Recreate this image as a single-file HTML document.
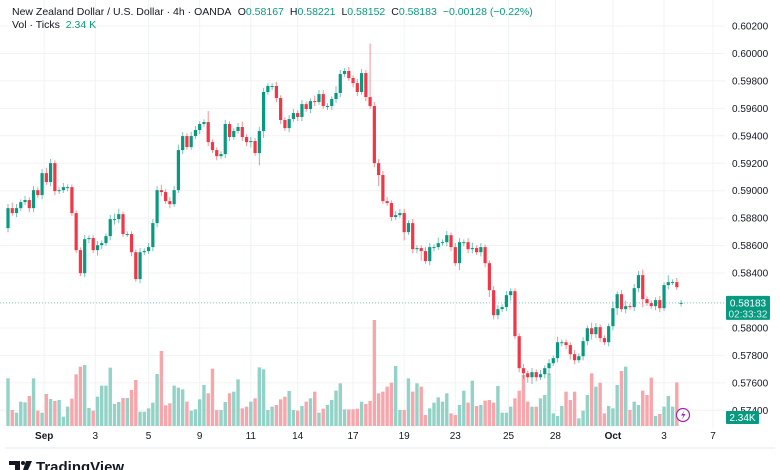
<!DOCTYPE html>
<html><head><meta charset="utf-8">
<style>
body{margin:0;background:#fff;font-family:"Liberation Sans",sans-serif;}
#wrap{position:relative;width:780px;height:470px;overflow:hidden;}
svg text{font-family:"Liberation Sans",sans-serif;}
</style></head><body>
<div id="wrap">
<svg id="chart" width="780" height="470"></svg>
</div>
<script>
const firstOpen = 0.58727;
const lastOpen = 0.58176;
const closes = [0.58873,0.58837,0.58873,0.58917,0.58932,0.58873,0.59004,0.58968,0.59128,0.59063,0.59201,0.58997,0.59004,0.59026,0.59026,0.58837,0.58567,0.58399,0.58647,0.58655,0.58567,0.58603,0.58618,0.58669,0.58793,0.58793,0.58829,0.58684,0.58684,0.58552,0.58356,0.58552,0.58560,0.58589,0.58764,0.59004,0.58990,0.58924,0.58902,0.59004,0.59296,0.59398,0.59318,0.59398,0.59442,0.59486,0.59500,0.59354,0.59296,0.59252,0.59267,0.59486,0.59391,0.59435,0.59464,0.59391,0.59354,0.59362,0.59274,0.59435,0.59719,0.59763,0.59763,0.59675,0.59515,0.59456,0.59522,0.59566,0.59537,0.59631,0.59595,0.59653,0.59646,0.59704,0.59617,0.59617,0.59668,0.59712,0.59850,0.59872,0.59821,0.59784,0.59719,0.59857,0.59682,0.59617,0.59201,0.59114,0.58924,0.58910,0.58808,0.58822,0.58837,0.58698,0.58764,0.58574,0.58582,0.58560,0.58487,0.58589,0.58589,0.58618,0.58625,0.58676,0.58589,0.58472,0.58625,0.58625,0.58574,0.58582,0.58552,0.58589,0.58472,0.58275,0.58093,0.58137,0.58152,0.58239,0.58268,0.57940,0.57707,0.57670,0.57641,0.57678,0.57641,0.57663,0.57707,0.57743,0.57780,0.57896,0.57896,0.57875,0.57809,0.57765,0.57794,0.57904,0.57998,0.57955,0.58006,0.57926,0.57896,0.58013,0.58144,0.58246,0.58137,0.58159,0.58152,0.58290,0.58385,0.58210,0.58181,0.58159,0.58203,0.58144,0.58312,0.58334,0.58334,0.58297,0.58183];
const wickUp = [3,4,3,2,3,2,3,2,3,4,3,2,2,3,2,2,2,2,3,2,2,3,2,2,3,4,4,2,2,2,2,3,2,3,3,3,4,2,3,3,4,3,2,3,3,2,2,8,2,2,2,3,2,2,3,4,2,3,2,3,3,2,2,3,2,2,3,3,2,3,2,2,4,3,3,2,2,5,3,2,3,2,3,3,2,39,3,3,3,3,2,3,3,3,2,3,2,2,3,3,2,4,2,3,2,3,3,2,3,4,2,3,2,2,3,3,2,3,2,2,2,3,2,3,2,3,2,3,2,4,2,2,2,3,2,3,2,4,3,2,2,2,5,2,3,4,2,3,3,4,2,2,2,3,2,5,2,3,2];
const wickDn = [3,2,3,2,2,3,3,2,3,2,3,3,2,2,3,2,2,2,3,3,2,4,3,2,3,4,3,2,2,3,2,3,2,2,3,3,3,2,3,2,2,3,2,2,2,3,2,3,2,3,2,3,3,2,2,3,3,4,2,9,5,2,3,3,3,2,3,2,3,3,2,3,3,2,2,3,3,3,3,2,2,3,3,2,3,2,3,8,2,2,3,2,2,6,2,3,3,7,2,3,3,2,2,3,3,2,5,3,3,3,2,3,3,5,3,3,2,3,4,2,3,4,4,5,3,2,3,5,2,3,3,3,4,3,2,3,3,4,3,3,2,3,3,5,2,3,2,3,3,6,2,2,3,3,2,3,2];
const volumes = [143,48,40,73,71,90,143,46,40,96,81,75,78,28,58,82,155,178,183,54,46,88,121,121,175,66,72,84,84,108,138,43,43,53,70,156,225,62,68,121,115,110,73,46,50,80,123,98,172,48,48,72,98,103,140,53,58,73,83,176,170,48,58,63,80,88,105,48,46,60,73,83,103,40,52,63,78,106,128,50,50,50,52,73,66,75,318,98,103,118,130,180,48,48,143,103,128,118,33,53,70,86,73,98,38,33,63,106,70,136,60,63,76,78,70,120,40,40,58,83,106,153,73,58,58,83,93,158,38,30,60,103,78,103,23,46,93,158,118,130,38,60,53,123,165,178,48,73,63,106,93,145,30,36,58,90,58,131];
const priceTicks = [0.602,0.600,0.598,0.596,0.594,0.592,0.590,0.588,0.586,0.584,0.580,0.578,0.576,0.574];
const dateLabels = ["Sep","3","5","9","11","14","17","19","23","25","28","Oct","3","7"];
const dateIdx = [8.5,20.5,33,45,57,68,81,93,105,117.5,128.5,142,154,165.5];
const lastPrice = 0.58183;

const NS="http://www.w3.org/2000/svg";
const svg=document.getElementById('chart');
const GREEN="#089981",RED="#f23645";
const yP=p=>26+(0.602-p)/0.002*27.45;
const xI=i=>8+i*4.26;
const volBase=426, vScale=106/318;
function mk(tag,attrs,parent){const e=document.createElementNS(NS,tag);for(const k in attrs)e.setAttribute(k,attrs[k]);(parent||svg).appendChild(e);return e;}
function openOf(i){if(i===0)return firstOpen;if(i===closes.length-1)return lastOpen;return closes[i-1];}

const grid=mk('g',{});


priceTicks.forEach(p=>{mk('line',{x1:0,x2:725,y1:yP(p),y2:yP(p),stroke:'#f6f1f3','stroke-width':1},grid);});
dateIdx.forEach(i=>{mk('line',{x1:xI(i),x2:xI(i),y1:0,y2:428,stroke:'#eef4f3','stroke-width':1},grid);});

const vg=mk('g',{});


volumes.forEach((v,i)=>{
  const k=Math.min(i,closes.length-1);
  const up=closes[k]>=openOf(k);
  const r=mk('rect',{x:xI(i)-1.7,y:volBase-v*vScale,width:3.4,height:v*vScale,fill:up?'#93d2c7':'#f7a6ac'},vg);
  
  
});

const lp=mk('line',{x1:0,x2:725,y1:yP(lastPrice),y2:yP(lastPrice),stroke:'#7cc9bd','stroke-width':1,'stroke-dasharray':'1 2'});



const cg=mk('g',{});


closes.forEach((c,i)=>{
  const o=openOf(i);
  const up=c>=o, col=up?GREEN:RED;
  const wu=wickUp[i]!==undefined?wickUp[i]:2, wd=wickDn[i]!==undefined?wickDn[i]:2;
  const hi=Math.max(o,c)+wu*0.0001, lo=Math.min(o,c)-wd*0.0001;
  const x=xI(i);
  const w=mk('line',{x1:x,x2:x,y1:yP(hi),y2:yP(lo),stroke:col,'stroke-width':1,'stroke-opacity':0.55},cg);
  
  
  const top=yP(Math.max(o,c)), h=Math.max(1,yP(Math.min(o,c))-top);
  const b=mk('rect',{x:x-1.6,y:top,width:3.2,height:h,fill:col},cg);
  
  
});

const ag=mk('g',{});


priceTicks.forEach(p=>{const t=mk('text',{x:732,y:yP(p)+3.5,'font-size':10,fill:'#131722'},ag);t.textContent=p.toFixed(5);
  
  });

const dg=mk('g',{});


dateLabels.forEach((s,k)=>{const t=mk('text',{x:xI(dateIdx[k]),y:439,'font-size':10,fill:'#131722','text-anchor':'middle','font-weight':(s==='Sep'||s==='Oct')?'bold':'normal'},dg);t.textContent=s;
  
  });

const pb=mk('g',{});


mk('rect',{x:726,y:yP(lastPrice)-7,width:44,height:24,fill:GREEN,rx:1},pb);
const t1=mk('text',{x:748,y:yP(lastPrice)+3.5,'font-size':10,fill:'#fff','text-anchor':'middle'},pb);t1.textContent=lastPrice.toFixed(5);
const t2=mk('text',{x:748,y:yP(lastPrice)+14.5,'font-size':10,fill:'#d6f0eb','text-anchor':'middle'},pb);t2.textContent="02:33:32";
const vb=mk('g',{});


mk('rect',{x:726,y:411,width:33,height:13,fill:GREEN,rx:1},vb);
const t3=mk('text',{x:742.5,y:421,'font-size':10,fill:'#fff','text-anchor':'middle'},vb);t3.textContent="2.34K";

mk('line',{x1:5,x2:775,y1:448,y2:448,stroke:'#e6e8ee','stroke-width':1});

const li=mk('g',{});


mk('circle',{cx:683,cy:415,r:6.5,fill:'#fff',stroke:'#9c27b0','stroke-width':1.2},li);
mk('path',{d:'M684.5 410.5 L681 415.5 L683.5 415.5 L682 419.5 L685.5 414 L683 414 Z',fill:'#9c27b0'},li);

const hg=mk('g',{});


const h1=mk('text',{x:12,y:15,'font-size':10.5,fill:'#131722'},hg);
h1.innerHTML='New Zealand Dollar / U.S. Dollar · 4h · OANDA <tspan dx="4">O</tspan><tspan fill="#089981">0.58167</tspan><tspan dx="6">H</tspan><tspan fill="#089981">0.58221</tspan><tspan dx="6">L</tspan><tspan fill="#089981">0.58152</tspan><tspan dx="6">C</tspan><tspan fill="#089981">0.58183</tspan><tspan dx="6" fill="#089981">−0.00128 (−0.22%)</tspan>';
const h2=mk('text',{x:12,y:28,'font-size':10.5,fill:'#131722'},hg);
h2.innerHTML='Vol · Ticks <tspan dx="3" fill="#089981">2.34 K</tspan>';

const lg=mk('g',{});


mk('path',{d:'M9 461 H20 V470 H15 V465 H9 Z',fill:'#131722'},lg);
mk('circle',{cx:23,cy:463,r:2,fill:'#131722'},lg);
mk('path',{d:'M26 461 H32 L28 470 H23 Z',fill:'#131722'},lg);
const lt=mk('text',{x:36,y:472,'font-size':15,'font-weight':'bold',fill:'#131722'},lg);lt.textContent="TradingView";
</script>
</body></html>
